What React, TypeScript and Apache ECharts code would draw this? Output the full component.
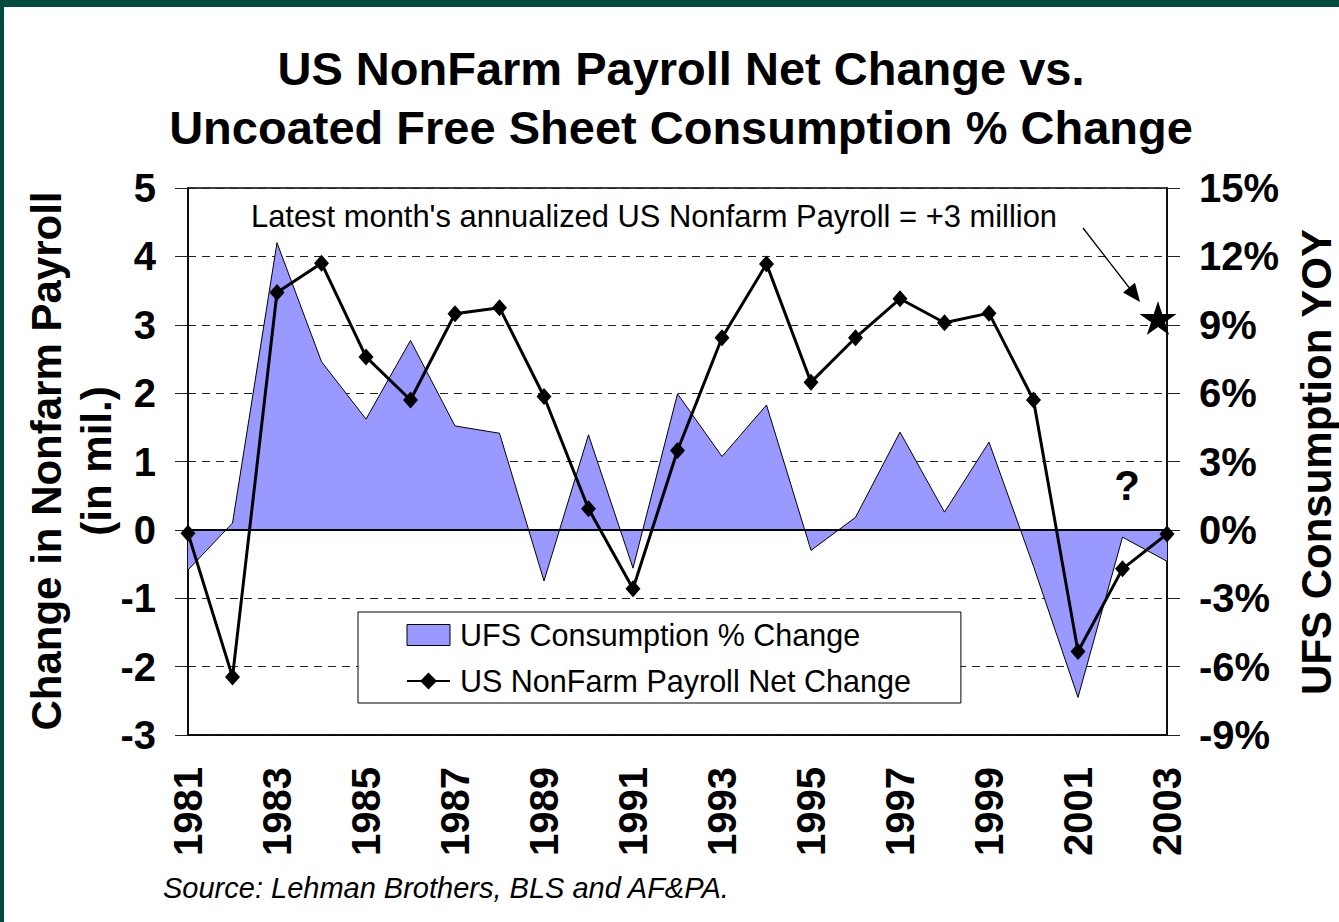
import React, { useEffect, useRef } from "react";
import * as echarts from "echarts";

const FONT = "'Liberation Sans', Arial, Helvetica, sans-serif";

const years = ["1981","1982","1983","1984","1985","1986","1987","1988","1989","1990","1991","1992","1993","1994","1995","1996","1997","1998","1999","2000","2001","2002","2003"];

// US NonFarm Payroll net change (millions) - left axis
const payroll = [-0.05, -2.15, 3.47, 3.9, 2.53, 1.9, 3.16, 3.25, 1.95, 0.31, -0.86, 1.16, 2.81, 3.89, 2.16, 2.81, 3.38, 3.03, 3.17, 1.9, -1.78, -0.57, -0.06];

// UFS consumption YOY % change - right axis
const ufs = [-1.76, 0.3, 12.6, 7.38, 4.86, 8.31, 4.56, 4.24, -2.24, 4.17, -1.68, 5.97, 3.22, 5.48, -0.9, 0.55, 4.29, 0.78, 3.85, -1.6, -7.35, -0.32, -1.38];

// latest annualized payroll (star)
const latestYear = "2003";
const latestPayroll = 3.1;

const leftTicks = { min: -3, max: 5, interval: 1 };
const rightTicks = { min: -9, max: 15, interval: 3 };

const STAR = "path://M50,0 L61,35 L98,35 L68,57 L79,91 L50,70 L21,91 L32,57 L2,35 L39,35 Z";

function txt(text: string, x: number, y: number, size: number, opts: any = {}) {
  return {
    type: "text",
    x,
    y,
    rotation: opts.rotation || 0,
    z: 100,
    style: {
      text,
      fill: "#000",
      fontSize: size,
      fontWeight: opts.weight || "normal",
      fontStyle: opts.style || "normal",
      fontFamily: FONT,
      align: opts.align || "left",
      textAlign: opts.align || "left",
      verticalAlign: "middle",
      textVerticalAlign: "middle",
      lineHeight: opts.lineHeight,
    },
  };
}

export default function App() {
  const ref = useRef<HTMLDivElement>(null);
  useEffect(() => {
    if (!ref.current) return;
    const chart = echarts.init(ref.current, undefined, { renderer: "svg" });
    const axisLabel = { fontSize: 40, fontWeight: "bold", color: "#000", fontFamily: FONT, margin: 32 };
    const option: any = {
      animation: false,
      backgroundColor: "#fff",
      textStyle: { fontFamily: FONT },
      grid: { left: 188, right: 172, top: 188, bottom: 187, show: true, borderColor: "#000", borderWidth: 1.5, backgroundColor: "transparent" },
      legend: {
        left: 358,
        top: 612,
        orient: "vertical",
        padding: [6, 50, 5, 48],
        itemGap: 12,
        itemWidth: 43,
        itemHeight: 21,
        borderColor: "#000",
        borderWidth: 1,
        backgroundColor: "#fff",
        selectedMode: false,
        textStyle: { fontSize: 30.5, color: "#000", lineHeight: 34, fontFamily: FONT, padding: [0, 0, 0, 5] },
        data: [
          { name: "UFS Consumption % Change", icon: "rect", itemStyle: { color: "#9999FF", borderColor: "#000", borderWidth: 1 } },
          { name: "US NonFarm Payroll Net Change" },
        ],
      },
      xAxis: {
        type: "category",
        data: years,
        boundaryGap: false,
        axisLine: { onZero: false, lineStyle: { color: "#000", width: 1.5 } },
        axisTick: { show: false },
        axisLabel: { ...axisLabel, interval: 1, rotate: 90 },
        splitLine: { show: false },
      },
      yAxis: [
        {
          type: "value",
          ...leftTicks,
          axisLine: { show: true, lineStyle: { color: "#000", width: 1.5 } },
          axisTick: { show: true, length: 13, lineStyle: { color: "#222" } },
          axisLabel: { ...axisLabel },
          splitLine: { show: true, lineStyle: { type: [8, 6], color: "#222", width: 1 } },
        },
        {
          type: "value",
          position: "right",
          ...rightTicks,
          axisLine: { show: true, lineStyle: { color: "#000", width: 1.5 } },
          axisTick: { show: true, length: 13, lineStyle: { color: "#222" } },
          axisLabel: { ...axisLabel, formatter: "{value}%" },
          splitLine: { show: false },
        },
      ],
      series: [
        {
          name: "UFS Consumption % Change",
          type: "line",
          yAxisIndex: 1,
          data: ufs,
          symbol: "none",
          lineStyle: { color: "#000", width: 1 },
          itemStyle: { color: "#9999FF" },
          areaStyle: { color: "#9999FF", opacity: 1 },
          markLine: {
            silent: true,
            symbol: "none",
            label: { show: false },
            lineStyle: { color: "#000", width: 2, type: "solid" },
            data: [{ yAxis: 0 }],
          },
        },
        {
          name: "US NonFarm Payroll Net Change",
          type: "line",
          yAxisIndex: 0,
          data: payroll,
          symbol: "diamond",
          symbolSize: [15, 17],
          itemStyle: { color: "#000" },
          lineStyle: { color: "#000", width: 3 },
        },
        {
          name: "Latest",
          type: "scatter",
          yAxisIndex: 0,
          data: [[latestYear, latestPayroll]],
          symbol: STAR,
          symbolSize: [37, 34],
          symbolOffset: [-9, 0],
          itemStyle: { color: "#000", opacity: 1 },
          z: 5,
        },
      ],
      graphic: [
        { type: "rect", shape: { x: 0, y: 0, width: 1339, height: 7 }, style: { fill: "#004B3C" }, z: 100 },
        { type: "rect", shape: { x: 0, y: 0, width: 4, height: 922 }, style: { fill: "#004B3C" }, z: 100 },
        txt("US NonFarm Payroll Net Change vs.", 681, 68, 47, { weight: "bold", align: "center" }),
        txt("Uncoated Free Sheet Consumption % Change", 681, 127, 47, { weight: "bold", align: "center" }),
        txt("Latest month's annualized US Nonfarm Payroll = +3 million", 251, 216, 30.9),
        txt("?", 1127, 485, 42, { weight: "bold", align: "center" }),
        txt("Source: Lehman Brothers, BLS and AF&PA.", 163, 888, 29, { style: "italic" }),
        txt("Change in Nonfarm Payroll\n(in mil.)", 71, 461, 42, { weight: "bold", align: "center", rotation: Math.PI / 2, lineHeight: 50 }),
        txt("UFS Consumption YOY", 1316, 462, 42, { weight: "bold", align: "center", rotation: Math.PI / 2 }),
        { type: "line", shape: { x1: 1083, y1: 228, x2: 1131, y2: 290 }, style: { stroke: "#000", lineWidth: 1.3 }, z: 100 },
        { type: "polygon", shape: { points: [[1140, 302], [1123, 292.5], [1135, 282.8]] }, style: { fill: "#000" }, z: 100 },
      ],
    };
    chart.setOption(option);
    return () => chart.dispose();
  }, []);
  return (
    <div
      ref={ref}
      style={{ position: "fixed", left: 0, top: 0, width: 1339, height: 922, background: "#fff" }}
    />
  );
}
